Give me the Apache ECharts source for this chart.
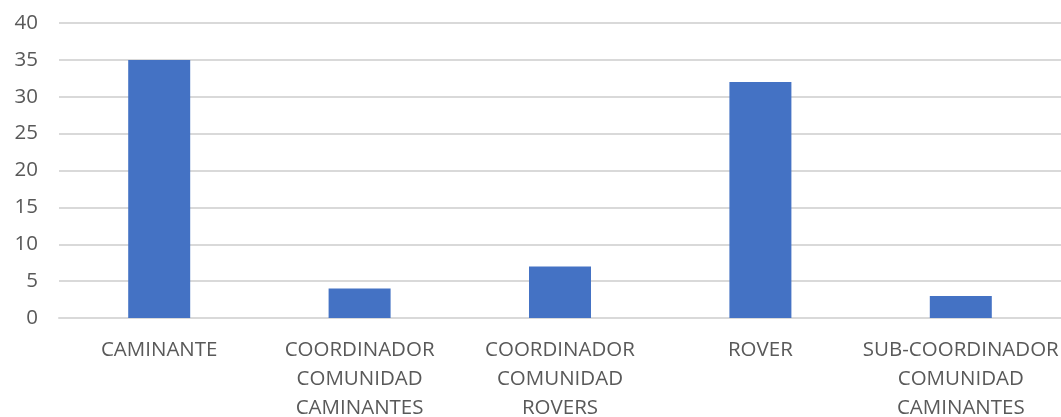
<!DOCTYPE html>
<html>
<head>
<meta charset="utf-8">
<script src="https://cdn.jsdelivr.net/npm/echarts@6/dist/echarts.min.js"></script>
<style>
  html, body { margin: 0; padding: 0; background: #fff; }
  #chart { width: 1061px; height: 417px; }
</style>
</head>
<body>
<div id="chart"></div>
<script>
// categories and values
const categories = [
  'CAMINANTE',
  'COORDINADOR\nCOMUNIDAD\nCAMINANTES',
  'COORDINADOR\nCOMUNIDAD\nROVERS',
  'ROVER',
  'SUB-COORDINADOR\nCOMUNIDAD\nCAMINANTES'
];
const counts = [35, 4, 7, 32, 3];

const chart = echarts.init(document.getElementById('chart'));

const option = {
  animation: false,
  backgroundColor: '#fff',
  grid: { left: 59, right: 0, top: 23, bottom: 99, containLabel: false, outerBoundsMode: 'none' },
  xAxis: {
    type: 'category',
    data: categories,
    axisLine: { show: true, lineStyle: { color: '#d9d9d9', width: 2 } },
    axisTick: { show: false },
    axisLabel: {
      interval: 0,
      margin: 18,
      color: '#595959',
      fontFamily: 'Open Sans',
      fontSize: 20.5,
      lineHeight: 29
    }
  },
  yAxis: {
    type: 'value',
    min: 0,
    max: 40,
    interval: 5,
    axisLine: { show: false },
    axisTick: { show: false },
    splitLine: { lineStyle: { color: '#d9d9d9', width: 2 } },
    axisLabel: {
      margin: 21,
      color: '#595959',
      fontFamily: 'Open Sans',
      fontSize: 20.5
    }
  },
  series: [{
    type: 'bar',
    data: counts,
    barWidth: 62,
    itemStyle: { color: '#4472c4' }
  }]
};

chart.setOption(option);
</script>
</body>
</html>
